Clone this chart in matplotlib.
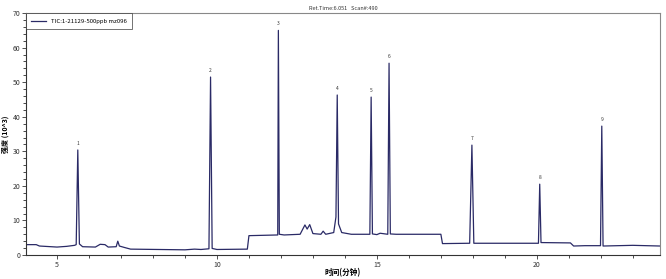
import matplotlib.pyplot as plt
from matplotlib.ticker import MultipleLocator

plt.rcParams['font.family'] = ['Noto Sans CJK SC', 'DejaVu Sans']

##### chromatogram trace (time in min, intensity in 10^3)
time = [4.03, 4.35, 4.45, 5.0, 5.3, 5.55, 5.6, 5.65, 5.7, 5.8, 6.2, 6.35, 6.5, 6.6,
        6.85, 6.9, 6.95, 7.1, 7.3, 9.0, 9.3, 9.5, 9.75, 9.8, 9.85, 10.0, 10.95,
        11.0, 11.9, 11.92, 11.95, 12.1, 12.6, 12.75, 12.82, 12.9, 13.0, 13.25,
        13.32, 13.4, 13.65, 13.72, 13.76, 13.8, 13.9, 14.2, 14.78, 14.82, 14.86,
        15.0, 15.1, 15.34, 15.38, 15.42, 15.6, 17.0, 17.05, 17.9, 17.97, 18.03,
        20.05, 20.09, 20.13, 21.05, 21.15, 21.5, 21.99, 22.03, 22.07, 23.0, 23.85]
intensity = [3.0, 3.0, 2.6, 2.3, 2.5, 2.8, 3.0, 30.4, 3.2, 2.4, 2.3, 3.1, 3.0, 2.3,
             2.4, 4.0, 2.6, 2.2, 1.7, 1.5, 1.7, 1.6, 1.8, 51.5, 1.9, 1.6, 1.7,
             5.6, 5.8, 65.0, 6.0, 5.8, 6.0, 8.7, 7.5, 8.8, 6.2, 6.0,
             6.9, 6.0, 6.5, 11.0, 46.3, 9.0, 6.5, 6.0, 6.0, 45.7, 6.1,
             5.9, 6.3, 6.0, 55.5, 6.1, 6.0, 6.0, 3.3, 3.4, 31.8, 3.4,
             3.4, 20.5, 3.6, 3.5, 2.6, 2.7, 2.7, 37.3, 2.6, 2.8, 2.6]

# labelled peaks
peak_times = [5.65, 9.80, 11.92, 13.76, 14.82, 15.38, 17.97, 20.09, 22.03]
peak_heights = [30.4, 51.5, 65.0, 46.3, 45.7, 55.5, 31.8, 20.5, 37.3]
peak_labels = ['1', '2', '3', '4', '5', '6', '7', '8', '9']

fig = plt.figure(figsize=(6.66, 2.79), dpi=100)
ax = fig.add_axes([0.039, 0.086, 0.952, 0.867])

ax.plot(time, intensity, color='#2a2a66', lw=0.9, label='TIC:1-21129-500ppb mz096')
for t, h, s in zip(peak_times, peak_heights, peak_labels):
    ax.text(t, h + 1.2, s, fontsize=3.5, ha='center', va='bottom', color='#333333')

ax.set_xlim(4.03, 23.85)
ax.set_ylim(0, 70)
ax.xaxis.set_major_locator(MultipleLocator(5))
ax.xaxis.set_minor_locator(MultipleLocator(1))
ax.yaxis.set_major_locator(MultipleLocator(10))
ax.yaxis.set_minor_locator(MultipleLocator(2))
ax.tick_params(labelsize=5, length=3, width=0.6, pad=1, colors='#333333')
ax.tick_params(which='minor', length=2, width=0.5)
for sp in ax.spines.values():
    sp.set_color('#888888')
    sp.set_linewidth(0.8)
ax.spines['left'].set_color('#333333')
ax.spines['bottom'].set_color('#333333')

ax.set_xlabel('时间(分钟)', fontsize=5.5, fontweight='bold', labelpad=0)
ax.set_ylabel('强度 (10^3)', fontsize=5, fontweight='bold', labelpad=3)
ax.set_title('Ret.Time:6.051   Scan#:490', fontsize=4, pad=2, color='#333333')

leg = ax.legend(loc='upper left', fontsize=4.3, frameon=True, fancybox=False,
                borderpad=0.9, handlelength=2.5, borderaxespad=0)
leg.get_frame().set_edgecolor('#333333')
leg.get_frame().set_linewidth(0.6)

fig.savefig('out.png', dpi=100)
